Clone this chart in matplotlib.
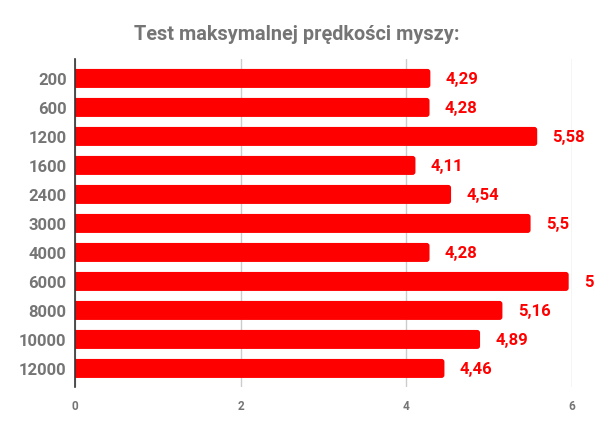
import matplotlib.pyplot as plt
from matplotlib.patches import FancyBboxPatch

plt.rcParams['font.family'] = ['Roboto', 'DejaVu Sans']

# mouse speed test data
categories = ['200', '600', '1200', '1600', '2400', '3000', '4000', '6000', '8000', '10000', '12000']
values = [4.29, 4.28, 5.58, 4.11, 4.54, 5.5, 4.28, 5.96, 5.16, 4.89, 4.46]
value_labels = ['4,29', '4,28', '5,58', '4,11', '4,54', '5,5', '4,28', '5,96', '5,16', '4,89', '4,46']
x_ticks = [0, 2, 4, 6]

GRAY = '#757575'
RED = '#ff0000'
BAR_H = 0.655

fig = plt.figure(figsize=(5.94, 4.31), dpi=100)
ax = fig.add_axes([75 / 594, 1 - 388 / 431, (572 - 75) / 594, (388 - 60) / 431])

pos = list(range(len(categories)))
# bars with slightly rounded right ends (left end hidden behind the axis)
r = 0.035
for p, v in zip(pos, values):
    bar = FancyBboxPatch((-0.05, p - BAR_H / 2), v + 0.05, BAR_H,
                         boxstyle='round,pad=0,rounding_size=%g' % r,
                         mutation_aspect=2.8, facecolor=RED, edgecolor='none', zorder=3)
    ax.add_patch(bar)

for p, v, lab in zip(pos, values, value_labels):
    ax.annotate(lab, (v, p), xytext=(11, 0), textcoords='offset points',
                va='center', ha='left', color=RED, fontsize=12, fontweight='bold')

ax.set_xlim(0, 6)
ax.set_ylim(10.64, -0.67)
ax.set_yticks(pos)
ax.set_yticklabels(categories, fontsize=12, fontweight='bold', color=GRAY)
ax.set_xticks(x_ticks)
ax.set_xticklabels([str(t) for t in x_ticks], fontsize=8.5, fontweight='bold', color=GRAY)
ax.tick_params(axis='y', length=0, pad=6)
ax.tick_params(axis='x', length=0, pad=9)
ax.grid(axis='x', color='#cccccc', linewidth=1, zorder=0)

for side in ['top', 'right', 'bottom']:
    ax.spines[side].set_visible(False)
ax.spines['left'].set_color('#333333')
ax.spines['left'].set_linewidth(1.2)
ax.spines['left'].set_zorder(4)

fig.text(0.5, 1 - 34 / 431, 'Test maksymalnej prędkości myszy:', ha='center', va='center',
         fontsize=14.3, fontweight='bold', color=GRAY)

fig.savefig('out.png', dpi=100)
